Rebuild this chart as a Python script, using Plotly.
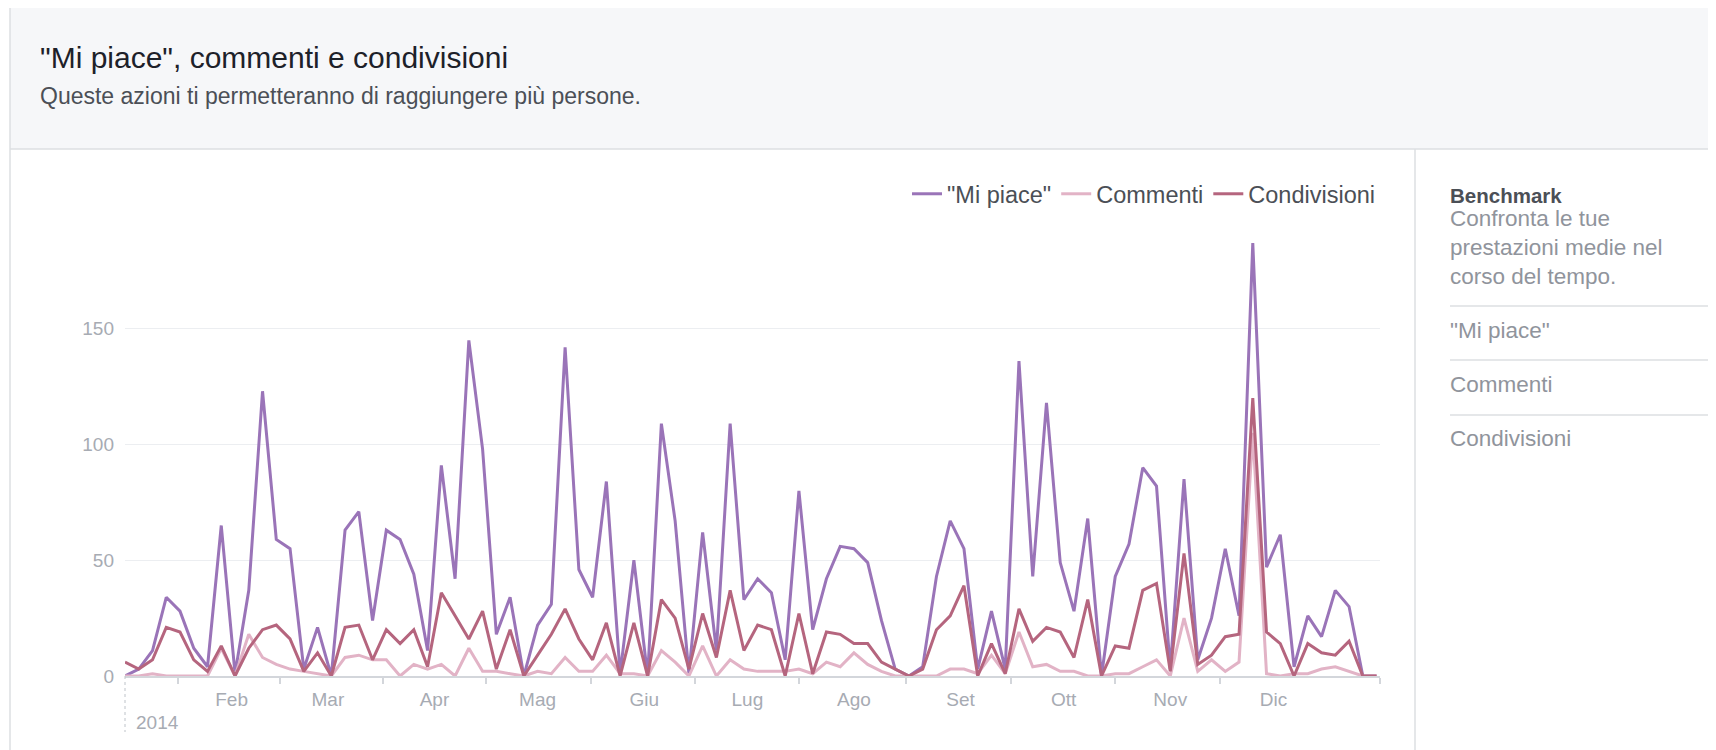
import pandas as pd
import plotly.graph_objects as go

# ---------------- data ----------------
start_date = "2014-01-01"
n_points = 92
dates = pd.date_range(start_date, periods=n_points, freq="4D")

mi_piace = [0, 3, 11, 34, 28, 12, 4, 65, 1, 37, 123, 59, 55, 3, 21, 0,
            63, 71, 24, 63, 59, 44, 11, 91, 42, 145, 98, 18, 34, 0, 22, 31,
            142, 46, 34, 84, 1, 50, 0, 109, 67, 1, 62, 11, 109, 33, 42, 36,
            7, 80, 20, 42, 56, 55, 49, 24, 3, 0, 4, 43, 67, 55, 3, 28,
            3, 136, 43, 118, 49, 28, 68, 0, 43, 57, 90, 82, 3, 85, 7, 25,
            55, 26, 187, 47, 61, 4, 26, 17, 37, 30, 0, 0]

commenti = [0, 0, 1, 0, 0, 0, 0, 12, 0, 18, 8, 5, 3, 2, 1, 0,
            8, 9, 7, 7, 0, 5, 3, 5, 0, 12, 2, 2, 1, 0, 2, 1,
            8, 2, 2, 9, 1, 1, 0, 11, 6, 0, 13, 0, 7, 3, 2, 2,
            2, 3, 1, 6, 4, 10, 5, 2, 0, 0, 0, 0, 3, 3, 1, 9,
            1, 19, 4, 5, 2, 2, 0, 0, 1, 1, 4, 7, 0, 25, 2, 7,
            2, 6, 105, 1, 0, 1, 1, 3, 4, 2, 0, 0]

condivisioni = [6, 3, 7, 21, 19, 7, 2, 13, 0, 12, 20, 22, 16, 2, 10, 0,
                21, 22, 7, 20, 14, 20, 4, 36, 26, 16, 28, 3, 20, 0, 9, 18,
                29, 16, 7, 23, 0, 23, 0, 33, 25, 3, 27, 8, 37, 11, 22, 20,
                0, 27, 1, 19, 18, 14, 14, 6, 3, 0, 3, 20, 26, 39, 0, 14,
                1, 29, 15, 21, 19, 8, 33, 0, 13, 12, 37, 40, 2, 53, 5, 9,
                17, 18, 120, 19, 14, 0, 14, 10, 9, 15, 0, 0]

series_names = ['"Mi piace"', "Commenti", "Condivisioni"]
series_colors = ["#9a74b8", "#e2b3c6", "#b5657e"]

month_ticks = ["2014-02-01", "2014-03-01", "2014-04-01", "2014-05-01", "2014-06-01",
               "2014-07-01", "2014-08-01", "2014-09-01", "2014-10-01", "2014-11-01",
               "2014-12-01"]
month_labels = ["Feb", "Mar", "Apr", "Mag", "Giu", "Lug", "Ago", "Set", "Ott", "Nov", "Dic"]
minor_ticks = ["2014-01-16 12:00", "2014-02-15", "2014-03-17", "2014-04-16", "2014-05-16 12:00",
               "2014-06-15 16:00", "2014-07-16", "2014-08-16", "2014-09-15 14:00",
               "2014-10-16", "2014-11-15 08:00", "2015-01-01"]
y_ticks = [0, 50, 100, 150]

# ---------------- layout geometry ----------------
# page coordinates (the figure sits at an 8px body offset in the page)
OFF = 8
W, H = 1716, 750
L, R, T, B = 117, 344, 205, 82
PW, PH = W - L - R, H - T - B
FONT = "Liberation Sans, Arial, Helvetica, sans-serif"


def px(x):
    return (x - OFF - L) / PW


def py(y):
    return (H - B - (y - OFF)) / PH


fig = go.Figure()
for name, vals, col in zip(series_names, [mi_piace, commenti, condivisioni], series_colors):
    fig.add_trace(go.Scatter(x=dates, y=vals, name=name, mode="lines",
                             line=dict(color=col, width=3), hoverinfo="x+y+name"))

shapes = [
    # header panel
    dict(type="rect", xref="paper", yref="paper", x0=px(10), x1=px(W + 20), y0=py(OFF), y1=py(149),
         fillcolor="#f6f7f9", line=dict(width=0), layer="below"),
    dict(type="line", xref="paper", yref="paper", x0=px(10), x1=px(W + 20), y0=py(149), y1=py(149),
         line=dict(color="#dddfe2", width=1.5)),
    dict(type="line", xref="paper", yref="paper", x0=px(10), x1=px(10), y0=py(OFF), y1=py(H + 20),
         line=dict(color="#dddfe2", width=1.5)),
    # sidebar separator
    dict(type="line", xref="paper", yref="paper", x0=px(1415), x1=px(1415), y0=py(149), y1=py(H + 20),
         line=dict(color="#dddfe2", width=1.5)),
    # year marker
    dict(type="line", xref="paper", yref="paper", x0=0, x1=0, y0=py(676), y1=py(732),
         line=dict(color="#bec3c9", width=1, dash="dot")),
]
for yy in [306, 360, 415]:
    shapes.append(dict(type="line", xref="paper", yref="paper", x0=px(1450), x1=px(1709),
                       y0=py(yy), y1=py(yy), line=dict(color="#dddfe2", width=1.5)))

ann = []


def text(x, y, s, size, color, bold=False, anchor="left"):
    ann.append(dict(xref="paper", yref="paper", x=px(x), y=py(y), text=f"<b>{s}</b>" if bold else s,
                    showarrow=False, xanchor=anchor, yanchor="middle",
                    font=dict(family=FONT, size=size, color=color)))


text(38, 57, '"Mi piace", commenti e condivisioni', 30, "#1d2129")
text(38, 96, "Queste azioni ti permetteranno di raggiungere più persone.", 23, "#4b4f56")
text(1448, 195, "Benchmark", 20.5, "#4b4f56", bold=True)
text(1448, 219, "Confronta le tue", 22.5, "#90949c")
text(1448, 247, "prestazioni medie nel", 22.5, "#90949c")
text(1448, 276, "corso del tempo.", 22.5, "#90949c")
text(1448, 330, '"Mi piace"', 22.5, "#90949c")
text(1448, 384, "Commenti", 22.5, "#90949c")
text(1448, 438, "Condivisioni", 22.5, "#90949c")
text(134, 722, "2014", 19, "#a7abb3")

fig.update_layout(
    width=W, height=H,
    margin=dict(l=L, r=R, t=T, b=B, pad=0),
    paper_bgcolor="white", plot_bgcolor="white",
    font=dict(family=FONT, color="#4b4f56"),
    showlegend=True,
    legend=dict(orientation="h", xanchor="right", x=1.0, yanchor="middle", y=py(194),
                font=dict(family=FONT, size=23.5, color="#4b4f56"), bgcolor="rgba(0,0,0,0)",
                itemwidth=30, traceorder="normal"),
    shapes=shapes,
    annotations=ann,
    xaxis=dict(
        type="date", range=["2014-01-01", "2015-01-01"],
        tickmode="array", tickvals=month_ticks, ticktext=month_labels,
        ticks="", showgrid=False, zeroline=False,
        showline=True, linecolor="#d3d6db", linewidth=1.5,
        tickfont=dict(family=FONT, size=19, color="#a7abb3"),
        ticklabelstandoff=5,
        minor=dict(tickmode="array", tickvals=minor_ticks, ticks="outside", ticklen=6,
                   tickwidth=1.5, tickcolor="#d3d6db", showgrid=False),
    ),
    yaxis=dict(
        range=[0, 200], tickmode="array", tickvals=y_ticks,
        showgrid=True, gridcolor="#eceef1", gridwidth=1.2, zeroline=False,
        showline=False, ticks="",
        tickfont=dict(family=FONT, size=19, color="#a7abb3"),
        ticklabelstandoff=10,
    ),
)

fig.write_html("out.html")
